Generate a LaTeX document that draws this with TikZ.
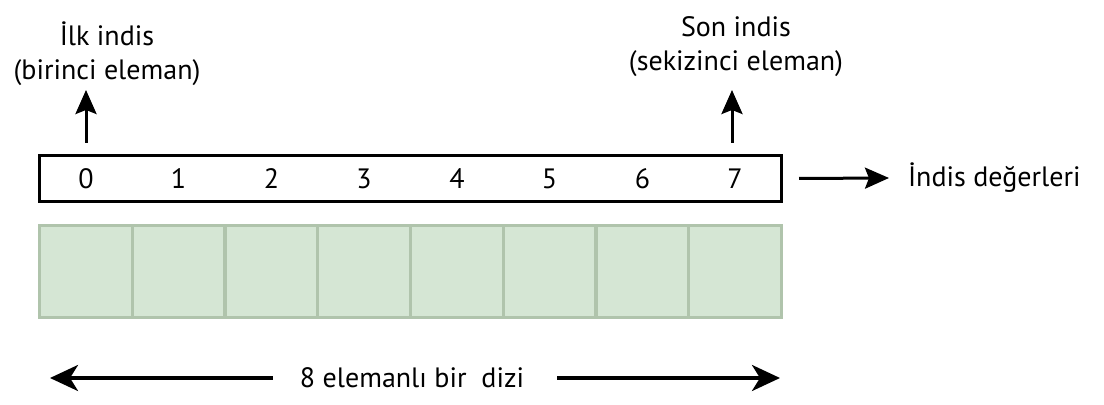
\documentclass[tikz,border=0pt]{standalone}
\usepackage{fontspec}
\setmainfont{PT Sans}
\usetikzlibrary{arrows.meta}
\definecolor{cellfill}{RGB}{213,230,212}
\definecolor{celledge}{RGB}{176,196,172}

\begin{document}
\begin{tikzpicture}[x=0.5pt,y=-0.5pt,
  cell/.style={rectangle,draw=celledge,fill=cellfill,line width=1.5pt,
    minimum width=46.375pt,minimum height=46pt,inner sep=0pt},
  idx/.style={font=\fontsize{14}{17}\selectfont},
  lbl/.style={font=\fontsize{14}{17}\selectfont,align=center},
  uparr/.style={line width=1.5pt,-{Stealth[length=12pt,width=10.5pt,inset=2pt]}},
  sizearr/.style={line width=1.8pt,-{Stealth[length=14pt,width=13pt,inset=4pt]}}]
\useasboundingbox (0,0) rectangle (1104,405);

\node[rectangle,draw,line width=1.5pt,minimum width=371pt,minimum height=23pt,
      inner sep=0pt] (box) at (410.5,178.5) {};
\draw (85.9,179) node[idx] (d0) {0} (178.6,179) node[idx] (d1) {1}
      (271.4,179) node[idx] (d2) {2} (364.1,179) node[idx] (d3) {3}
      (456.9,179) node[idx] (d4) {4} (549.6,179) node[idx] (d5) {5}
      (642.4,179) node[idx] (d6) {6} (735.1,179) node[idx] (d7) {7};

\draw (85.9,271.5) node[cell] (c0) {} (178.6,271.5) node[cell] (c1) {}
      (271.4,271.5) node[cell] (c2) {} (364.1,271.5) node[cell] (c3) {}
      (456.9,271.5) node[cell] (c4) {} (549.6,271.5) node[cell] (c5) {}
      (642.4,271.5) node[cell] (c6) {} (735.1,271.5) node[cell] (c7) {};

\node[lbl] (first) at (107,54) {İlk indis\\(birinci eleman)};
\node[lbl] (last) at (736,47) {Son indis\\(sekizinci eleman)};
\node[lbl,anchor=west] (vals) at (901,178) {İndis değerleri};
\node[lbl] (size) at (412,378) {8 elemanlı bir~ dizi};

\coordinate (a0) at (86,143);
\coordinate (a7) at (732,143);
\draw[uparr] (a0) -- (86,90);
\draw[uparr] (a7) -- (732,90);
\draw[uparr] ([xshift=8pt]box.east) -- ([xshift=-6pt]vals.west);

\coordinate (lend) at (50,378);
\coordinate (rend) at (780,378);
\draw[sizearr] ([xshift=-10pt]size.west) -- (lend);
\draw[sizearr] ([xshift=13pt]size.east) -- (rend);

\end{tikzpicture}
\end{document}
